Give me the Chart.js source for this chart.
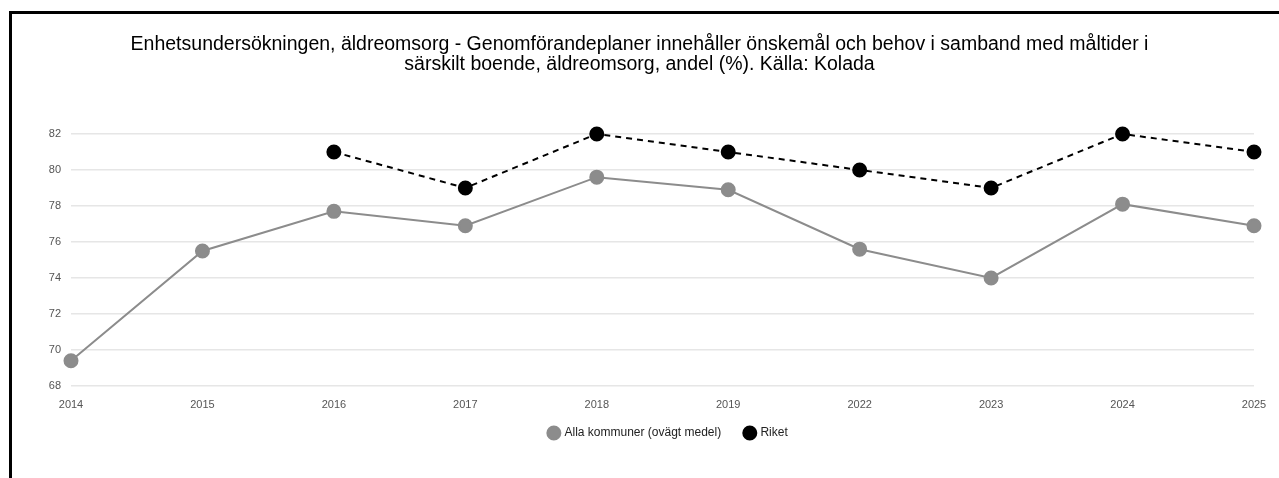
<!DOCTYPE html>
<html>
<head>
<meta charset="utf-8">
<script src="https://cdn.jsdelivr.net/npm/chart.js@4"></script>
<style>
  html, body { margin: 0; padding: 0; background: #fff; overflow: hidden; }
  #frame { position: absolute; left: 9px; top: 11px; width: 1400px; height: 600px; border-left: 3px solid #000; border-top: 3px solid #000; box-sizing: border-box; pointer-events: none; }
  #wrap { position: absolute; left: 0; top: 0; width: 1279px; height: 478px; }
</style>
</head>
<body>
<div id="wrap"><canvas id="c" width="1279" height="478"></canvas></div>
<div id="frame"></div>
<script>
const categories = ["2014", "2015", "2016", "2017", "2018", "2019", "2022", "2023", "2024", "2025"];
const allaKommuner = [69.4, 75.5, 77.7, 76.9, 79.6, 78.9, 75.6, 74.0, 78.1, 76.9];
const riket = [null, null, 81, 79, 82, 81, 80, 79, 82, 81];
const seriesNames = ["Alla kommuner (ovägt medel)", "Riket"];
const titleLines = ["Enhetsundersökningen, äldreomsorg - Genomförandeplaner innehåller önskemål och behov i samband med måltider i", "särskilt boende, äldreomsorg, andel (%). Källa: Kolada"];
const yTicks = [68, 70, 72, 74, 76, 78, 80, 82];

const FONT = "'Liberation Sans', Arial, Helvetica, sans-serif";
Chart.defaults.font.family = FONT;

// nudges the legend block to sit where the reference places it
const legendShift = {
  id: 'legendShift',
  afterLayout(chart) {
    const l = chart.legend;
    if (!l) return;
    l.left += 29; l.right += 29;
    l.top -= 8; l.bottom -= 8;
  }
};

new Chart(document.getElementById('c'), {
  type: 'line',
  data: {
    labels: categories,
    datasets: [
      {
        label: seriesNames[0],
        data: allaKommuner,
        borderColor: '#8c8c8c',
        backgroundColor: '#8c8c8c',
        pointBackgroundColor: '#8c8c8c',
        pointBorderColor: '#8c8c8c',
        borderWidth: 2,
        pointRadius: 6.5,
        pointHoverRadius: 6.5,
        tension: 0,
        clip: false
      },
      {
        label: seriesNames[1],
        data: riket,
        borderColor: '#000',
        backgroundColor: '#000',
        pointBackgroundColor: '#000',
        pointBorderColor: '#000',
        borderWidth: 2,
        borderDash: [6, 5],
        pointRadius: 6.5,
        pointHoverRadius: 6.5,
        tension: 0,
        spanGaps: false,
        clip: false
      }
    ]
  },
  plugins: [legendShift],
  options: {
    responsive: false,
    animation: false,
    devicePixelRatio: 1,
    layout: { padding: { top: 34, right: 25, bottom: 21, left: 25 } },
    plugins: {
      title: {
        display: true,
        text: titleLines,
        color: '#000',
        font: { size: 19.5, weight: 'normal', family: FONT, lineHeight: 1.05 },
        padding: { top: 0, bottom: 59 }
      },
      legend: {
        position: 'bottom',
        labels: {
          usePointStyle: true,
          pointStyle: 'circle',
          boxWidth: 9.2,
          boxHeight: 9.2,
          color: '#222',
          font: { size: 12, family: FONT },
          padding: 24
        }
      },
      tooltip: { enabled: false }
    },
    scales: {
      x: {
        offset: false,
        grid: { display: false, drawTicks: false },
        border: { display: false },
        ticks: { color: '#555', font: { size: 11, family: FONT }, padding: 12, maxRotation: 0, autoSkip: false },
        afterFit: (s) => { s.height = 25; }
      },
      y: {
        min: 68,
        max: 82,
        afterBuildTicks: (s) => { s.ticks = yTicks.map(v => ({ value: v })); },
        grid: { color: '#e6e6e6', lineWidth: 1.5, drawTicks: false },
        border: { display: false },
        ticks: { color: '#555', font: { size: 11, family: FONT }, padding: 10 },
        afterFit: (s) => { s.width = 46; }
      }
    }
  }
});
</script>
</body>
</html>
